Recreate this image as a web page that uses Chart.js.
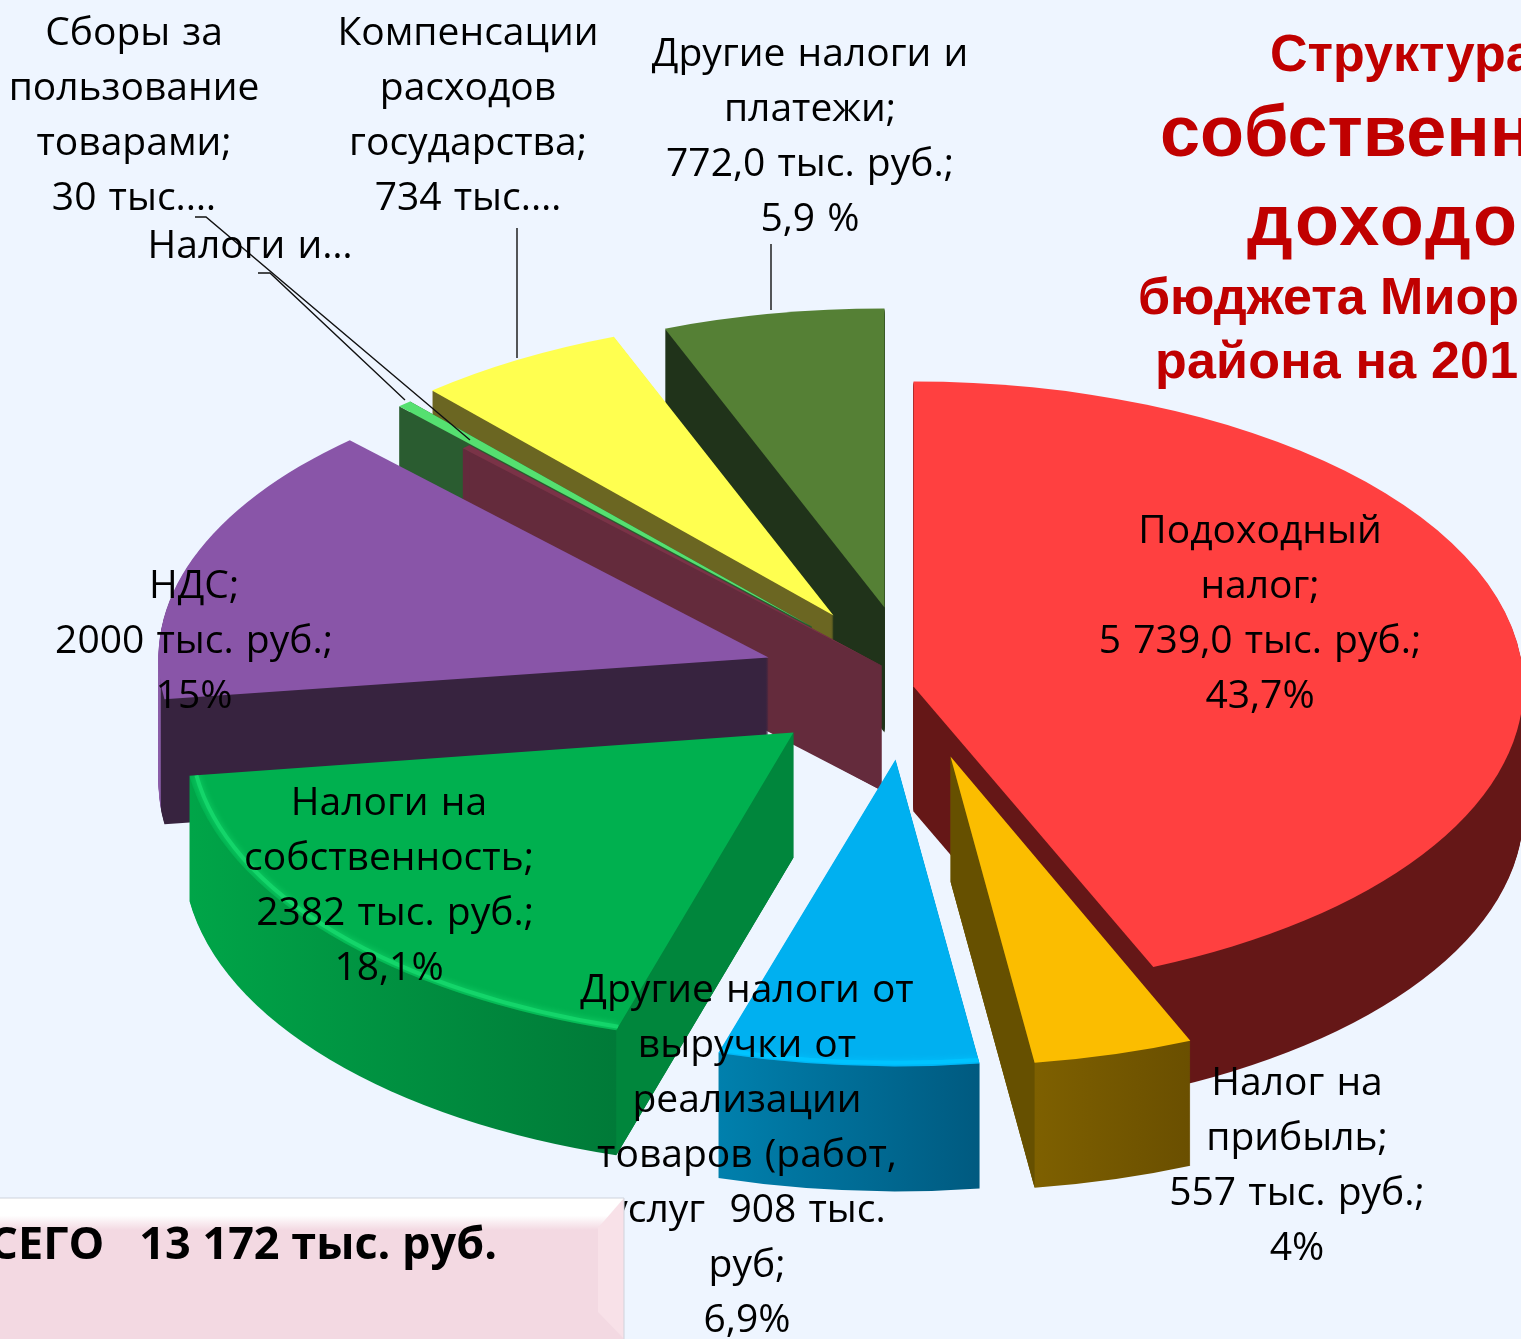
<!DOCTYPE html>
<html lang="ru">
<head>
<meta charset="utf-8">
<title>Структура собственных доходов</title>
<script src="https://cdn.jsdelivr.net/npm/chart.js@4"></script>
<style>
    html, body { margin: 0; padding: 0; background: #eef5ff; overflow: hidden; }
    canvas { display: block; }
</style>
</head>
<body>
<canvas id="pieChart" width="1521" height="1339"></canvas>
<script>
// --- DATA ---
const categories = ['Подоходный налог', 'Налог на прибыль', 'Другие налоги от выручки', 'Налоги на собственность', 'НДС',
    'Сборы за пользование товарами', 'Налоги и…', 'Компенсации расходов государства', 'Другие налоги и платежи'];
const seriesValues = [5739, 557, 908, 2382, 2000, 30, 50, 734, 772];

const labelLines = [
    ['Подоходный', 'налог;', '5 739,0 тыс. руб.;', '43,7%'],
    ['Налог на', 'прибыль;', '557 тыс. руб.;', '4%'],
    ['Другие налоги от', 'выручки от', 'реализации', 'товаров (работ,', 'услуг  908 тыс.', 'руб;', '6,9%'],
    ['Налоги на', 'собственность;', ' 2382 тыс. руб.;', '18,1%'],
    ['НДС;', '2000 тыс. руб.;', '15%'],
    ['Сборы за', 'пользование', 'товарами;', '30 тыс.…'],
    ['Налоги и…'],
    ['Компенсации', 'расходов', 'государства;', '734 тыс.…'],
    ['Другие налоги и', 'платежи;', '772,0 тыс. руб.;', '5,9 %']
];

const titleLines = ['Структура', 'собственных', 'доходов', 'бюджета Миорского', 'района на 201'];
const totalText = 'ВСЕГО   13 172 тыс. руб.';

// --- LAYOUT / STYLE ---
const depth = 125;
const pieRadius = 610;
const sliceSquash = [0.5, 0.507, 0.503, 0.51, 0.49, 0.49, 0.49, 0.49, 0.49];
const shiftX = [153, 190, 135, 33, 8, 121, 51, 73, 124];
const shiftY = [17, 87, 90, 63, -12, -4, -43, -54, -62];
const drawOrder = [8, 7, 6, 5, 4, 0, 3, 2, 1];

const topColors = ['#ff4040', '#fbbd00', '#00b0f0', '#00b04f', '#8955a8', '#7a3347', '#55e070', '#ffff50', '#558035'];
const wallStops = [
    [[0, '#651717'], [1, '#651717']],
    [[0, '#7e6000'], [1, '#6a4f00']],
    [[0, '#0080ad'], [1, '#005a80']],
    [[0, '#00a548'], [1, '#007a38']],
    [[0, '#8a5ca8'], [0.01, '#8a5ca8'], [0.012, '#37233f'], [1, '#37233f']],
    [[0, '#642b3c'], [1, '#642b3c']],
    [[0, '#2a5c30'], [1, '#2a5c30']],
    [[0, '#6b6622'], [1, '#6b6622']],
    [[0, '#20331a'], [1, '#20331a']]
];
const cutFaces = [null, { edge: 'endAngle', color: '#665000' }, null, { edge: 'startAngle', color: '#00863c' }, null, null, null, null, null];
const rimColors = [null, null, '#00c4ff', '#14d56a', null, null, null, null, null];

const labelCenterX = [1260, 1297, 747, 389, 194, 134, 250, 468, 810];
const labelFirstBaseline = [543, 1095, 1002, 815, 598, 45, 258, 45, 66];
const lineHeight = 55;

const leaderLines = [
    [[195, 217], [206, 217], [470, 440]],
    [[258, 273], [270, 273], [405, 400]],
    [[517, 228], [517, 358]],
    [[771, 244], [771, 310]]
];

const titleStyle = [
    { x: 1270, y: 71, font: 'bold 52px "Liberation Sans"', spacing: '0px' },
    { x: 1160, y: 156, font: 'bold 72px "Liberation Sans"', spacing: '0px' },
    { x: 1247, y: 245, font: 'bold 72px "Liberation Sans"', spacing: '2.2px' },
    { x: 1138, y: 314, font: 'bold 52px "Liberation Sans"', spacing: '0px' },
    { x: 1155, y: 378, font: 'bold 52px "Liberation Sans"', spacing: '0.2px' }
];

// --- DRAW HELPERS ---
function applySlice(ctx, i, cx, cy, dx, dy) {
    ctx.translate(dx, dy);
    ctx.translate(cx, cy);
    ctx.scale(1, sliceSquash[i]);
    ctx.translate(-cx, -cy);
}

function tracePie(ctx, arc, i, cx, cy, dx, dy) {
    ctx.save();
    applySlice(ctx, i, cx, cy, dx, dy);
    ctx.beginPath();
    ctx.moveTo(arc.x, arc.y);
    ctx.arc(arc.x, arc.y, arc.outerRadius, arc.startAngle, arc.endAngle);
    ctx.closePath();
    ctx.restore();
}

function screenPoint(arc, i, angle, cy, dx, dy) {
    const x = arc.x + arc.outerRadius * Math.cos(angle);
    const y = arc.y + arc.outerRadius * Math.sin(angle);
    return [x + dx, cy + (y - cy) * sliceSquash[i] + dy];
}

function wallFill(ctx, arc, i, cy) {
    let minX = Infinity, maxX = -Infinity;
    for (let t = 0; t <= 40; t++) {
        const a = arc.startAngle + (arc.endAngle - arc.startAngle) * t / 40;
        const p = screenPoint(arc, i, a, cy, shiftX[i], shiftY[i]);
        minX = Math.min(minX, p[0]);
        maxX = Math.max(maxX, p[0]);
    }
    const g = ctx.createLinearGradient(minX, 0, maxX, 0);
    wallStops[i].forEach(s => g.addColorStop(s[0], s[1]));
    return g;
}

function fillEdgeWall(ctx, arc, i, angle, cy, color) {
    const dx = shiftX[i], dy = shiftY[i];
    const p = screenPoint(arc, i, angle, cy, dx, dy);
    const apexY = arc.y + dy;
    ctx.fillStyle = color;
    ctx.beginPath();
    ctx.moveTo(arc.x + dx, apexY);
    ctx.lineTo(p[0], p[1]);
    ctx.lineTo(p[0], p[1] + depth);
    ctx.lineTo(arc.x + dx, apexY + depth);
    ctx.closePath();
    ctx.fill();
}

const pie3d = {
    id: 'pie3d',
    beforeDatasetsDraw(chart) {
        const ctx = chart.ctx;
        const arcs = chart.getDatasetMeta(0).data;
        const cx = arcs[0].x, cy = arcs[0].y;

        drawOrder.forEach(i => {
            const arc = arcs[i];
            const dx = shiftX[i], dy = shiftY[i];

            // side walls: very thin slices get plain quads, a stack of them would fade out
            if (arc.endAngle - arc.startAngle > 0.06) {
                ctx.fillStyle = wallFill(ctx, arc, i, cy);
                for (let d = depth; d >= 1; d--) {
                    tracePie(ctx, arc, i, cx, cy, dx, dy + d);
                    ctx.fill();
                }
            } else {
                const color = wallStops[i][0][1];
                fillEdgeWall(ctx, arc, i, arc.startAngle, cy, color);
                fillEdgeWall(ctx, arc, i, arc.endAngle, cy, color);
            }

            // cut face, where it has its own shade
            const cut = cutFaces[i];
            if (cut) fillEdgeWall(ctx, arc, i, arc[cut.edge], cy, cut.color);

            // top face
            ctx.fillStyle = arc.options.backgroundColor;
            tracePie(ctx, arc, i, cx, cy, dx, dy);
            ctx.fill();

            // soft rim along the outer edge
            if (rimColors[i]) {
                ctx.save();
                ctx.beginPath();
                ctx.rect(0, 0, 1521, 1339);
                tracePie(ctx, arc, i, cx, cy, dx, dy);
                ctx.clip();
                ctx.save();
                applySlice(ctx, i, cx, cy, dx, dy);
                ctx.beginPath();
                ctx.arc(arc.x, arc.y, arc.outerRadius - 7, arc.startAngle, arc.endAngle);
                ctx.restore();
                ctx.strokeStyle = rimColors[i];
                ctx.lineWidth = 4;
                ctx.shadowColor = rimColors[i];
                ctx.shadowBlur = 6;
                ctx.stroke();
                ctx.restore();
            }
        });
        return false;
    },
    afterDraw(chart) {
        const ctx = chart.ctx;

        // leader lines
        ctx.strokeStyle = '#111';
        ctx.lineWidth = 1.4;
        leaderLines.forEach(pts => {
            ctx.beginPath();
            pts.forEach((p, k) => k ? ctx.lineTo(p[0], p[1]) : ctx.moveTo(p[0], p[1]));
            ctx.stroke();
        });

        // slice labels
        ctx.fillStyle = '#000';
        ctx.textAlign = 'center';
        ctx.textBaseline = 'alphabetic';
        ctx.font = '39px "Open Sans"';
        ctx.wordSpacing = '2px';
        labelLines.forEach((lines, i) => {
            lines.forEach((line, k) => {
                ctx.fillText(line, labelCenterX[i], labelFirstBaseline[i] + k * lineHeight);
            });
        });
        ctx.wordSpacing = '0px';

        // title
        ctx.fillStyle = '#c00000';
        ctx.textAlign = 'left';
        titleLines.forEach((line, i) => {
            ctx.font = titleStyle[i].font;
            ctx.letterSpacing = titleStyle[i].spacing;
            ctx.fillText(line, titleStyle[i].x, titleStyle[i].y);
        });
        ctx.letterSpacing = '0px';

        // total box
        const boxGrad = ctx.createLinearGradient(0, 1198, 0, 1230);
        boxGrad.addColorStop(0, '#ffffff');
        boxGrad.addColorStop(0.55, '#ffffff');
        boxGrad.addColorStop(1, '#f3d9e2');
        ctx.fillStyle = boxGrad;
        ctx.fillRect(0, 1198, 624, 141);
        ctx.fillStyle = '#f8e1e8';
        ctx.beginPath();
        ctx.moveTo(624, 1198);
        ctx.lineTo(598, 1228);
        ctx.lineTo(598, 1312);
        ctx.lineTo(624, 1339);
        ctx.closePath();
        ctx.fill();
        ctx.strokeStyle = '#cfd3dc';
        ctx.lineWidth = 1;
        ctx.beginPath();
        ctx.moveTo(0, 1198);
        ctx.lineTo(624, 1198);
        ctx.lineTo(624, 1339);
        ctx.stroke();

        ctx.fillStyle = '#000';
        ctx.textAlign = 'right';
        ctx.font = 'bold 45px "Open Sans"';
        ctx.fillText(totalText, 497, 1259);
    }
};

// --- CHART ---
new Chart(document.getElementById('pieChart'), {
    type: 'pie',
    data: {
        labels: categories,
        datasets: [{
            data: seriesValues,
            backgroundColor: topColors,
            borderWidth: 0
        }]
    },
    options: {
        responsive: false,
        animation: false,
        radius: pieRadius,
        plugins: {
            legend: { display: false },
            tooltip: { enabled: false }
        }
    },
    plugins: [pie3d]
});
</script>
</body>
</html>
